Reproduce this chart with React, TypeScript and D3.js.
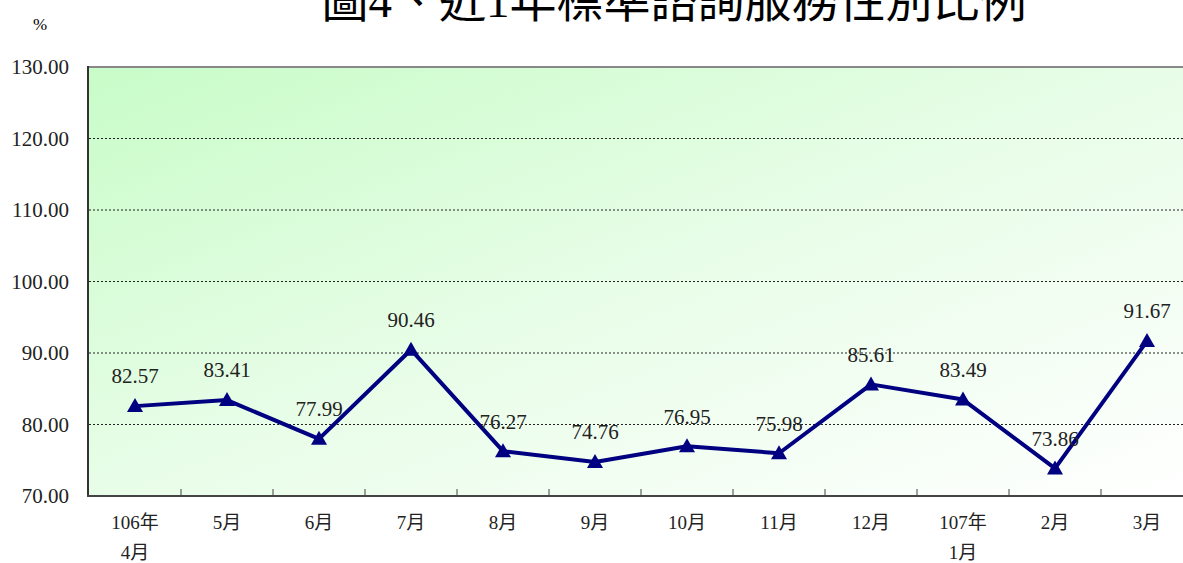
import * as d3 from "d3";

const months = ["106年", "5月", "6月", "7月", "8月", "9月", "10月", "11月", "12月", "107年", "2月", "3月"];
const monthsLine2 = ["4月", "", "", "", "", "", "", "", "", "1月", "", ""];
const values = [82.57, 83.41, 77.99, 90.46, 76.27, 74.76, 76.95, 75.98, 85.61, 83.49, 73.86, 91.67];
const yTicks = [70, 80, 90, 100, 110, 120, 130];
const title = "圖4、近1年標準諮詢服務性別比例";

const serif = "'Liberation Serif', 'Times New Roman', 'Noto Sans CJK TC', serif";

export default function App() {
  const width = 1183;
  const height = 563;
  const left = 89;
  const right = 1193; // plot runs past the visible edge
  const top = 67;
  const bottom = 496;

  const x = d3.scaleBand<number>().domain(d3.range(months.length)).range([left, right]).padding(0);
  const y = d3.scaleLinear().domain([70, 130]).range([bottom, top]);
  const cx = (i: number) => x(i)! + x.bandwidth() / 2;

  const line = d3.line<number>((d, i) => cx(i), (d) => y(d));

  return (
    <svg width={width} height={height} style={{ position: "absolute", left: 0, top: 0 }}>
      <defs>
        <linearGradient id="bg" x1="0" y1="0" x2="1" y2="1">
          <stop offset="0" stopColor="#c8fcc8" />
          <stop offset="0.5" stopColor="#e8fde8" />
          <stop offset="1" stopColor="#ffffff" />
        </linearGradient>
      </defs>
      <rect width={width} height={height} fill="#fff" />

      <text x={674} y={17} textAnchor="middle" fontSize={47} fontFamily={serif} fill="#000">
        {title}
      </text>

      <text x={40} y={30} textAnchor="middle" fontSize={17} fontFamily={serif}>%</text>

      <rect x={left} y={top} width={right - left} height={bottom - top} fill="url(#bg)" />

      {yTicks.filter((t) => t > 70 && t < 130).map((t) => (
        <line key={t} x1={left} x2={right} y1={y(t)} y2={y(t)} stroke="#222" strokeWidth={1} strokeDasharray="2,2" />
      ))}
      <line x1={left} x2={right} y1={top} y2={top} stroke="#888" strokeWidth={2} />

      {yTicks.map((t) => (
        <text key={t} x={69} y={y(t)} dy="0.35em" textAnchor="end" fontSize={21} fontFamily={serif} fill="#222">
          {t.toFixed(2)}
        </text>
      ))}

      <line x1={left - 1} x2={left - 1} y1={top - 1} y2={bottom + 1} stroke="#333" strokeWidth={2} />
      <line x1={left - 2} x2={right} y1={bottom} y2={bottom} stroke="#444" strokeWidth={2} />
      {d3.range(1, months.length).map((i) => (
        <line key={i} x1={x(i)!} x2={x(i)!} y1={bottom} y2={bottom - 7} stroke="#444" strokeWidth={1} />
      ))}

      {months.map((m, i) => (
        <g key={m} fontFamily={serif} fontSize={19} fill="#222" textAnchor="middle">
          <text x={cx(i)} y={529}>{m}</text>
          {monthsLine2[i] && <text x={cx(i)} y={559}>{monthsLine2[i]}</text>}
        </g>
      ))}

      <path d={line(values)!} fill="none" stroke="#000080" strokeWidth={4} strokeLinejoin="round" />
      {values.map((v, i) => (
        <polygon
          key={i}
          points={`${cx(i)},${y(v) - 8} ${cx(i) + 8},${y(v) + 6} ${cx(i) - 8},${y(v) + 6}`}
          fill="#000080"
        />
      ))}
      {values.map((v, i) => (
        <text key={i} x={cx(i)} y={y(v) - 30} dy="0.35em" textAnchor="middle" fontSize={21} fontFamily={serif} fill="#222">
          {v.toFixed(2)}
        </text>
      ))}
    </svg>
  );
}
